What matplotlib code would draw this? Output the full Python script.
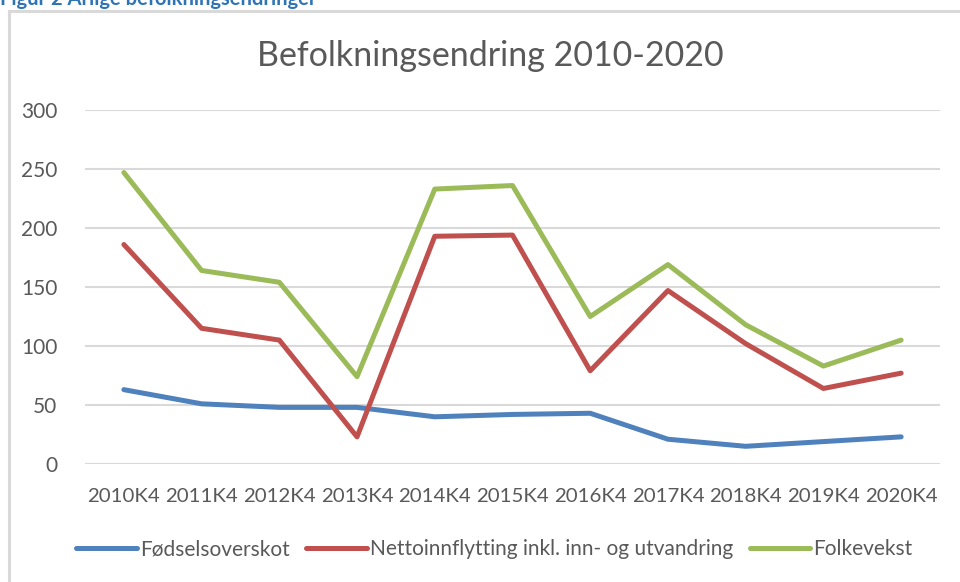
import matplotlib.pyplot as plt
from matplotlib.patches import Rectangle

# data
kvartal = ["2010K4", "2011K4", "2012K4", "2013K4", "2014K4", "2015K4",
           "2016K4", "2017K4", "2018K4", "2019K4", "2020K4"]
fodselsoverskot = [63, 51, 48, 48, 40, 42, 43, 21, 15, 19, 23]
nettoinnflytting = [186, 115, 105, 23, 193, 194, 79, 147, 102, 64, 77]
folkevekst = [247, 164, 154, 74, 233, 236, 125, 169, 118, 83, 105]

plt.rcParams['font.family'] = ['Lato', 'DejaVu Sans']

fig = plt.figure(figsize=(9.6, 5.82), dpi=100)

# outer chart frame (runs off the right and bottom edge)
fig.patches.append(Rectangle((9 / 960, -0.05), 1.0, 1 - 11 / 582 + 0.05,
                             transform=fig.transFigure, fill=False,
                             edgecolor="#d9d9d9", linewidth=2.2))

# caption above the frame, cut off at the top like in the source
fig.text(0.5 / 960, 1 - 5 / 582, "Figur 2 Årlige befolkningsendringer",
         color="#2e74b5", fontsize=14.5, fontweight="bold", va="baseline")

ax = fig.add_axes([85 / 960, 1 - 464 / 582, 855 / 960, 354 / 582])

x = list(range(len(kvartal)))
ax.plot(x, fodselsoverskot, color="#4f81bd", lw=3.6, solid_capstyle="round",
        solid_joinstyle="round", label="Fødselsoverskot")
ax.plot(x, nettoinnflytting, color="#c0504d", lw=3.6, solid_capstyle="round",
        solid_joinstyle="round", label="Nettoinnflytting inkl. inn- og utvandring")
ax.plot(x, folkevekst, color="#9bbb59", lw=3.6, solid_capstyle="round",
        solid_joinstyle="round", label="Folkevekst")

ax.set_xlim(-0.5, len(kvartal) - 0.5)
ax.set_ylim(0, 300)
ax.set_yticks(range(0, 301, 50))
ax.set_xticks(x)
ax.set_xticklabels(kvartal)
ax.grid(axis="y", color="#d9d9d9", lw=1.5)
ax.set_axisbelow(True)
for s in ax.spines.values():
    s.set_visible(False)
ax.tick_params(length=0, labelsize=14.7, labelcolor="#595959")
ax.tick_params(axis="x", pad=17)
ax.tick_params(axis="y", labelsize=15, pad=20)

fig.text(490 / 960, 1 - 56 / 582, "Befolkningsendring 2010-2020",
         ha="center", va="center", fontsize=24.5, color="#595959")

fig.legend(loc="center", bbox_to_anchor=(0.515, 1 - 549 / 582), ncol=3,
           frameon=False, fontsize=15, labelcolor="#595959",
           handlelength=2.9, handletextpad=0.15, columnspacing=0.8)

fig.savefig("out.png", dpi=100)
